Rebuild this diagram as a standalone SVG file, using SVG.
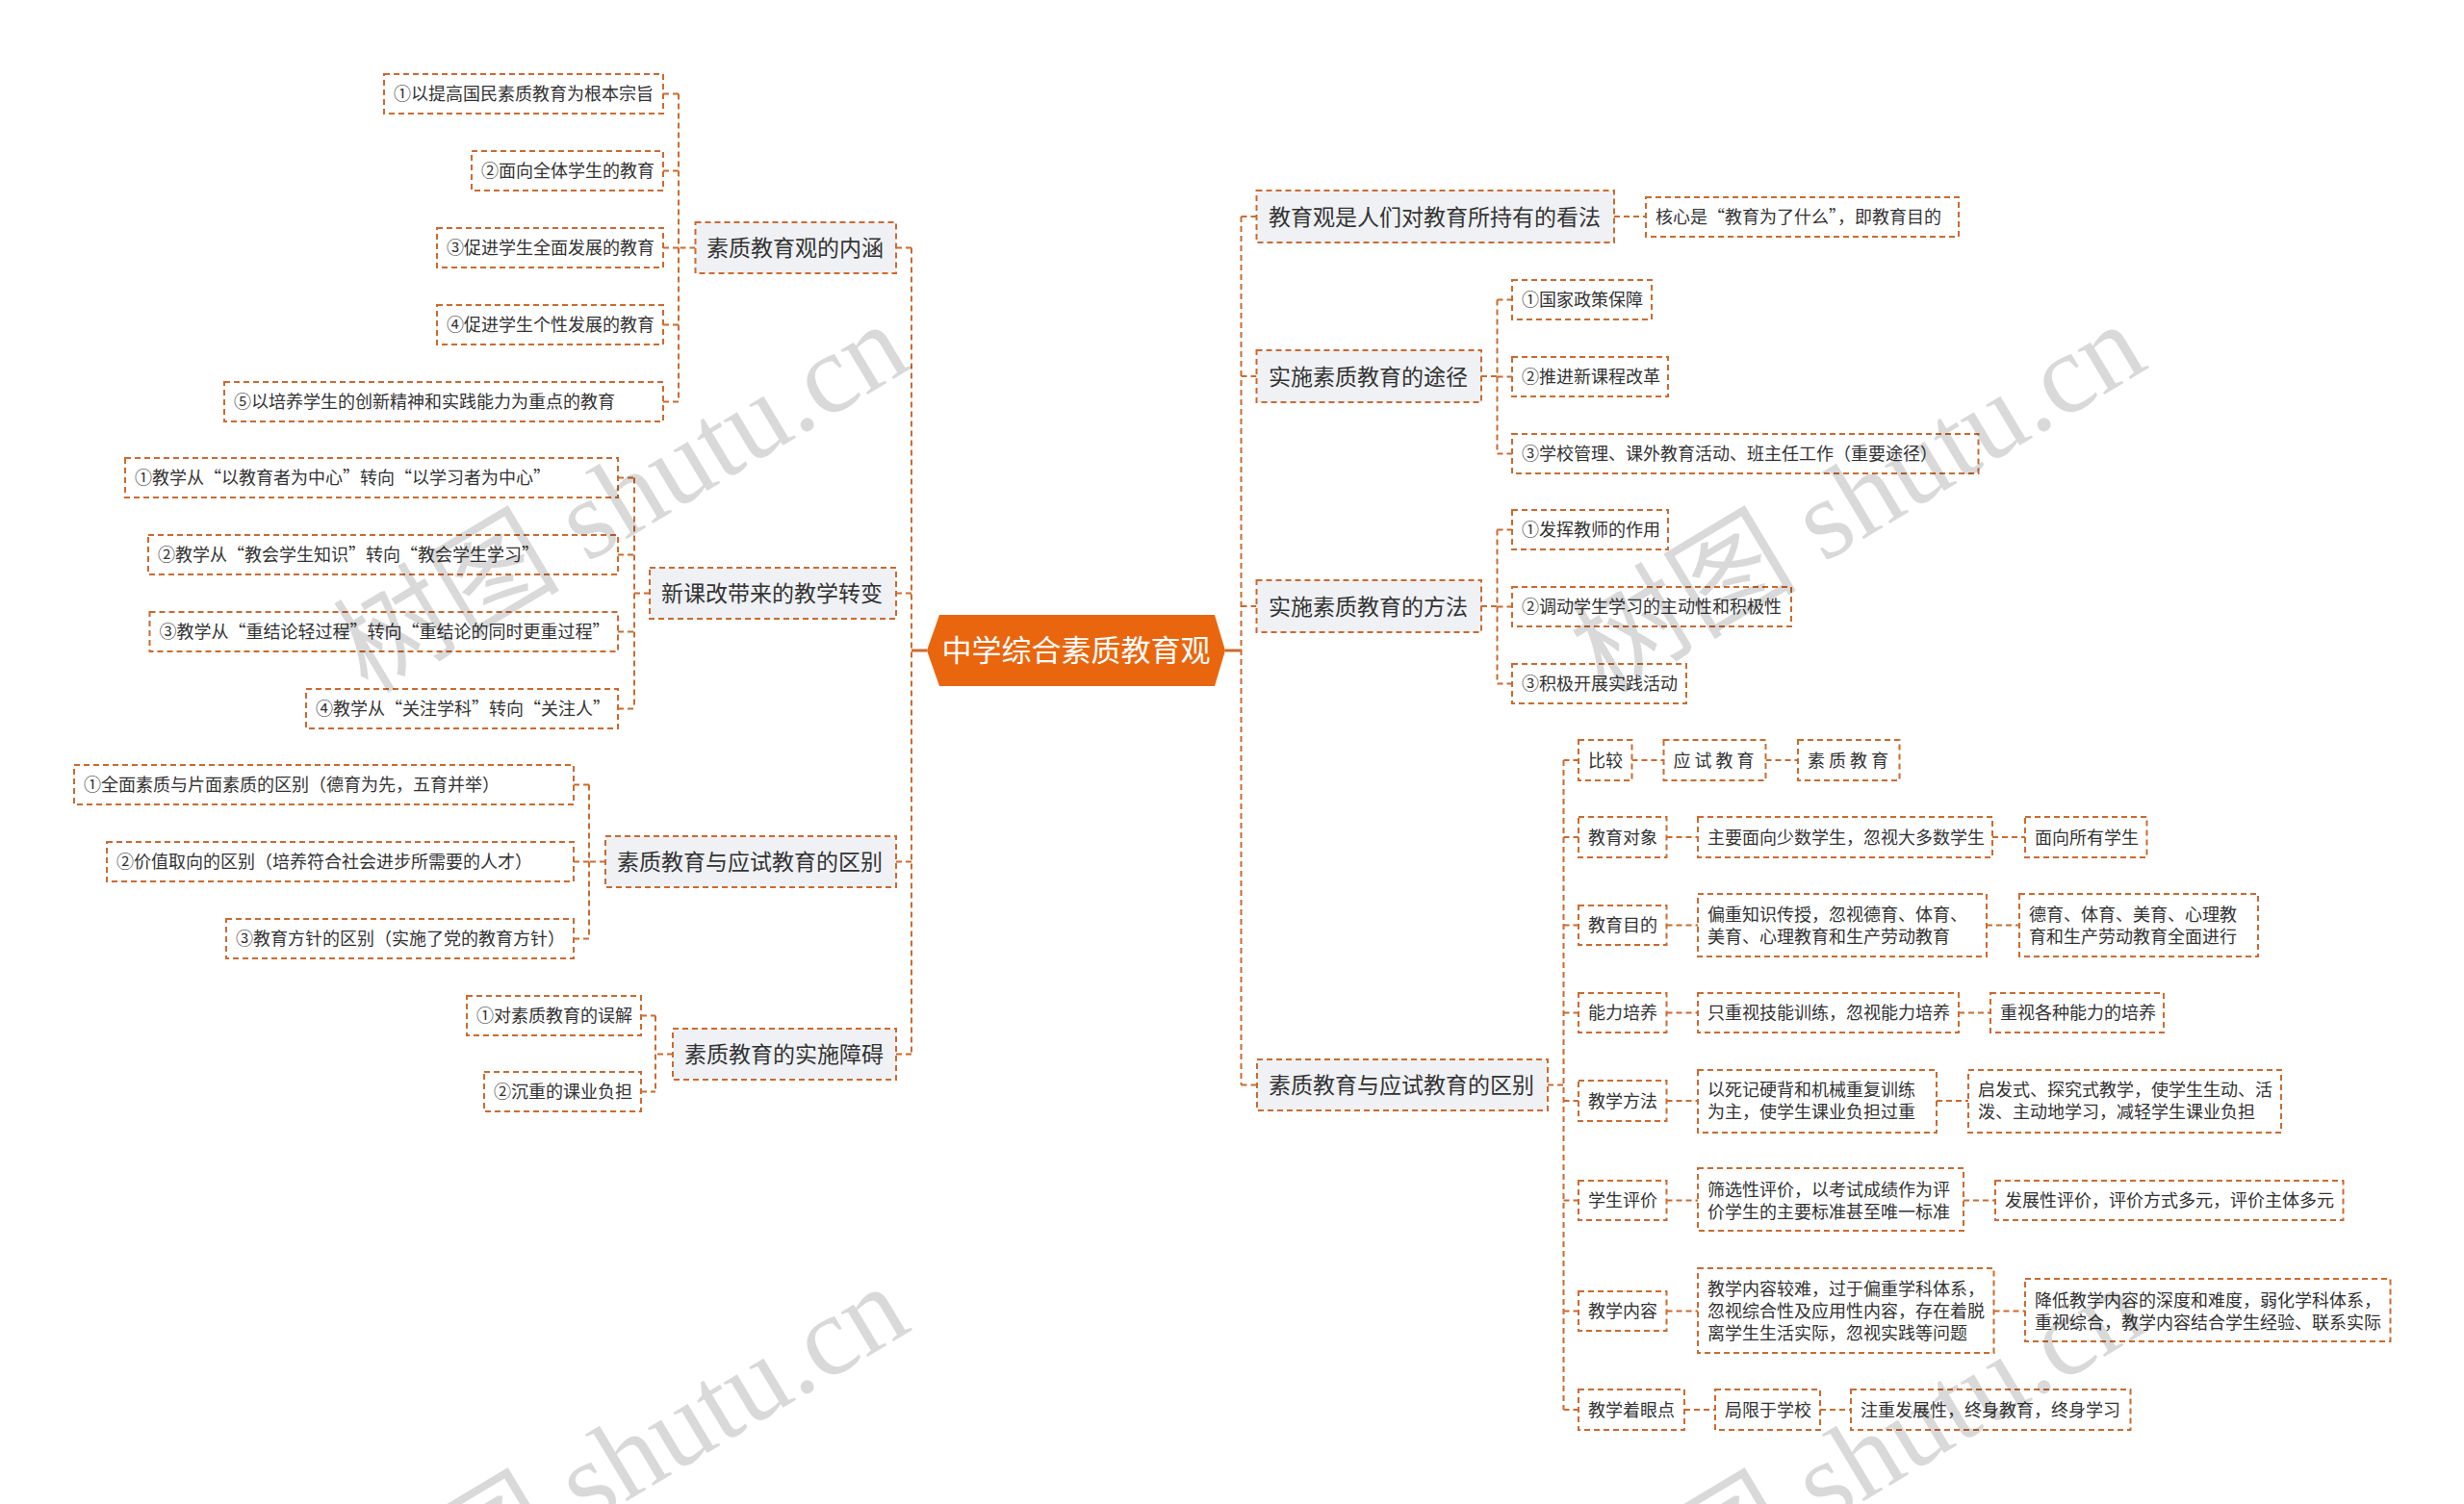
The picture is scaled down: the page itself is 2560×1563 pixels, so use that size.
<svg xmlns="http://www.w3.org/2000/svg" width="2560" height="1563" viewBox="0 0 2560 1563">
<style>
.leaf{fill:#ffffff;stroke:#cc6a2e;stroke-width:2;stroke-dasharray:6 4}
.branch{fill:#eff1f4;stroke:#cc6a2e;stroke-width:2;stroke-dasharray:6 4}
.conn{fill:none;stroke:#cc6a2e;stroke-width:2;stroke-dasharray:6 4}
.solid{fill:none;stroke:#cc6a2e;stroke-width:3}
text{font-family:"Noto Sans CJK SC","Noto Sans",sans-serif;fill:#333333;font-size:18px}
.tb{font-size:23px}
.tr{font-size:31px;fill:#ffffff}
.wm{font-family:"Liberation Serif","Noto Sans CJK SC",serif;font-size:118px;fill:#000000;fill-opacity:0.15}
</style>
<rect width="2560" height="1563" fill="#ffffff"/>
<g id="connectors">
<path class="solid" d="M947 676H963M1273 676H1290"/>
<path class="conn" d="M947 257.5V1095.5M931 257.5H947M931 616.5H947M931 895.5H947M931 1095.5H947"/>
<path class="conn" d="M705 97.5V417.5M722.5 257.5H705M689 97.5H705M689 177.5H705M689 257.5H705M689 337.5H705M689 417.5H705"/>
<path class="conn" d="M659 496.5V736.5M675 616.5H659M642 496.5H659M642 576.5H659M642 656.5H659M642 736.5H659"/>
<path class="conn" d="M612 815.5V975.5M629 895.5H612M596 815.5H612M596 895.5H612M596 975.5H612"/>
<path class="conn" d="M681 1055.5V1134.5M699 1095.5H681M666 1055.5H681M666 1134.5H681"/>
<path class="conn" d="M1289.5 225V1127.5M1289.5 225H1305.5M1289.5 391H1305.5M1289.5 630H1305.5M1289.5 1127.5H1306"/>
<path class="conn" d="M1677 225H1710"/>
<path class="conn" d="M1539 391H1555.5M1555.5 311.5V471.5M1555.5 311.5H1571M1555.5 391.5H1571M1555.5 471.5H1571"/>
<path class="conn" d="M1539 630H1555.5M1555.5 550.5V710.5M1555.5 550.5H1571M1555.5 630.5H1571M1555.5 710.5H1571"/>
<path class="conn" d="M1608 1127.5H1624.5M1624.5 790V1465M1624.5 790H1640M1624.5 870H1640M1624.5 961.5H1640M1624.5 1052.5H1640M1624.5 1144H1640M1624.5 1247.5H1640M1624.5 1362.5H1640M1624.5 1465H1640"/>
<path class="conn" d="M1695.5 790H1728.5M1834.5 790H1868M1731.5 870H1764M2070 870H2104M1731.5 961.5H1764M2064 961.5H2098M1731.5 1052.5H1764M2035 1052.5H2068M1731.5 1144H1764M2012 1144H2045M1731.5 1247.5H1764M2040 1247.5H2073M1731.5 1362.5H1764M2071.5 1362.5H2104M1750 1465H1782M1891 1465H1923"/>
</g>
<g id="root">
<polygon points="963,676 976,639 1262,639 1273,676 1262,713 976,713" fill="#e9660f"/>
<text class="tr" x="1118" y="687" text-anchor="middle">中学综合素质教育观</text>
</g>
<g id="b1"><rect class="branch" x="722.5" y="231" width="208.5" height="53"/><text class="tb" x="734" y="266">素质教育观的内涵</text></g>
<g id="l1a"><rect class="leaf" x="399" y="77" width="290" height="41"/><text x="409" y="104">①以提高国民素质教育为根本宗旨</text></g>
<g id="l1b"><rect class="leaf" x="490" y="157" width="199" height="41"/><text x="500" y="184">②面向全体学生的教育</text></g>
<g id="l1c"><rect class="leaf" x="454" y="237" width="235" height="41"/><text x="464" y="264">③促进学生全面发展的教育</text></g>
<g id="l1d"><rect class="leaf" x="454" y="317" width="235" height="41"/><text x="464" y="344">④促进学生个性发展的教育</text></g>
<g id="l1e"><rect class="leaf" x="233" y="397" width="456" height="41"/><text x="243" y="424">⑤以培养学生的创新精神和实践能力为重点的教育</text></g>
<g id="b2"><rect class="branch" x="675" y="590" width="256" height="53"/><text class="tb" x="687" y="625">新课改带来的教学转变</text></g>
<g id="l2a"><rect class="leaf" x="130" y="476" width="512" height="41"/><text x="140" y="503">①教学从“以教育者为中心”转向“以学习者为中心”</text></g>
<g id="l2b"><rect class="leaf" x="154" y="556" width="488" height="41"/><text x="164" y="583">②教学从“教会学生知识”转向“教会学生学习”</text></g>
<g id="l2c"><rect class="leaf" x="155.5" y="636" width="486.5" height="41"/><text x="165.5" y="663">③教学从“重结论轻过程”转向“重结论的同时更重过程”</text></g>
<g id="l2d"><rect class="leaf" x="318" y="716" width="324" height="41"/><text x="328" y="743">④教学从“关注学科”转向“关注人”</text></g>
<g id="b3"><rect class="branch" x="629" y="869" width="302" height="53"/><text class="tb" x="641" y="904">素质教育与应试教育的区别</text></g>
<g id="l3a"><rect class="leaf" x="77" y="795" width="519" height="41"/><text x="87" y="822">①全面素质与片面素质的区别（德育为先，五育并举）</text></g>
<g id="l3b"><rect class="leaf" x="111" y="875" width="485" height="41"/><text x="121" y="902">②价值取向的区别（培养符合社会进步所需要的人才）</text></g>
<g id="l3c"><rect class="leaf" x="235" y="955" width="361" height="41"/><text x="245" y="982">③教育方针的区别（实施了党的教育方针）</text></g>
<g id="b4"><rect class="branch" x="699" y="1069" width="232" height="53"/><text class="tb" x="711" y="1104">素质教育的实施障碍</text></g>
<g id="l4a"><rect class="leaf" x="485" y="1035" width="181" height="41"/><text x="495" y="1062">①对素质教育的误解</text></g>
<g id="l4b"><rect class="leaf" x="503" y="1114" width="163" height="41"/><text x="513" y="1141">②沉重的课业负担</text></g>
<g id="r1"><rect class="branch" x="1305.5" y="198" width="371.5" height="54"/><text class="tb" x="1318" y="233.5">教育观是人们对教育所持有的看法</text></g>
<g id="r1a"><rect class="leaf" x="1710" y="205" width="325" height="41"/><text x="1720" y="232">核心是“教育为了什么”，即教育目的</text></g>
<g id="r2"><rect class="branch" x="1305.5" y="364" width="233.5" height="54"/><text class="tb" x="1318" y="399.5">实施素质教育的途径</text></g>
<g id="r2a"><rect class="leaf" x="1571" y="291" width="145" height="41"/><text x="1581" y="318">①国家政策保障</text></g>
<g id="r2b"><rect class="leaf" x="1571" y="371" width="162" height="41"/><text x="1581" y="398">②推进新课程改革</text></g>
<g id="r2c"><rect class="leaf" x="1571" y="451" width="484.5" height="41"/><text x="1581" y="478">③学校管理、课外教育活动、班主任工作（重要途径）</text></g>
<g id="r3"><rect class="branch" x="1305.5" y="603" width="233.5" height="54"/><text class="tb" x="1318" y="638.5">实施素质教育的方法</text></g>
<g id="r3a"><rect class="leaf" x="1571" y="530" width="162" height="41"/><text x="1581" y="557">①发挥教师的作用</text></g>
<g id="r3b"><rect class="leaf" x="1571" y="610" width="290" height="41"/><text x="1581" y="637">②调动学生学习的主动性和积极性</text></g>
<g id="r3c"><rect class="leaf" x="1571" y="690" width="181" height="41"/><text x="1581" y="717">③积极开展实践活动</text></g>
<g id="r4"><rect class="branch" x="1306" y="1101" width="302" height="53"/><text class="tb" x="1318" y="1136">素质教育与应试教育的区别</text></g>
<g id="c1a"><rect class="leaf" x="1640" y="769" width="55.5" height="42"/><text x="1650" y="796.5">比较</text></g>
<g id="c1b"><rect class="leaf" x="1728.5" y="769" width="106" height="42"/><text x="1738.5" y="796.5">应 试 教 育</text></g>
<g id="c1c"><rect class="leaf" x="1868" y="769" width="105.5" height="42"/><text x="1878" y="796.5">素 质 教 育</text></g>
<g id="c2a"><rect class="leaf" x="1640" y="849" width="91.5" height="42"/><text x="1650" y="876.5">教育对象</text></g>
<g id="c2b"><rect class="leaf" x="1764" y="849" width="306" height="42"/><text x="1774" y="876.5">主要面向少数学生，忽视大多数学生</text></g>
<g id="c2c"><rect class="leaf" x="2104" y="849" width="126.5" height="42"/><text x="2114" y="876.5">面向所有学生</text></g>
<g id="c3a"><rect class="leaf" x="1640" y="941" width="91.5" height="41"/><text x="1650" y="968">教育目的</text></g>
<g id="c3b"><rect class="leaf" x="1764" y="929" width="300" height="65"/><text x="1774" y="956.5">偏重知识传授，忽视德育、体育、</text><text x="1774" y="979.5">美育、心理教育和生产劳动教育</text></g>
<g id="c3c"><rect class="leaf" x="2098" y="929" width="248" height="65"/><text x="2108" y="956.5">德育、体育、美育、心理教</text><text x="2108" y="979.5">育和生产劳动教育全面进行</text></g>
<g id="c4a"><rect class="leaf" x="1640" y="1032" width="91.5" height="41"/><text x="1650" y="1059">能力培养</text></g>
<g id="c4b"><rect class="leaf" x="1764" y="1032" width="271" height="41"/><text x="1774" y="1059">只重视技能训练，忽视能力培养</text></g>
<g id="c4c"><rect class="leaf" x="2068" y="1032" width="180" height="41"/><text x="2078" y="1059">重视各种能力的培养</text></g>
<g id="c5a"><rect class="leaf" x="1640" y="1123" width="91.5" height="42"/><text x="1650" y="1150.5">教学方法</text></g>
<g id="c5b"><rect class="leaf" x="1764" y="1112" width="248" height="65"/><text x="1774" y="1139">以死记硬背和机械重复训练</text><text x="1774" y="1162">为主，使学生课业负担过重</text></g>
<g id="c5c"><rect class="leaf" x="2045" y="1112" width="325" height="65"/><text x="2055" y="1139">启发式、探究式教学，使学生生动、活</text><text x="2055" y="1162">泼、主动地学习，减轻学生课业负担</text></g>
<g id="c6a"><rect class="leaf" x="1640" y="1227" width="91.5" height="41"/><text x="1650" y="1254">学生评价</text></g>
<g id="c6b"><rect class="leaf" x="1764" y="1214" width="276" height="65"/><text x="1774" y="1242.5">筛选性评价，以考试成绩作为评</text><text x="1774" y="1265.5">价学生的主要标准甚至唯一标准</text></g>
<g id="c6c"><rect class="leaf" x="2073" y="1227" width="361.5" height="41"/><text x="2083" y="1254">发展性评价，评价方式多元，评价主体多元</text></g>
<g id="c7a"><rect class="leaf" x="1640" y="1342" width="91.5" height="41"/><text x="1650" y="1369">教学内容</text></g>
<g id="c7b"><rect class="leaf" x="1764" y="1318" width="307.5" height="88"/><text x="1774" y="1346">教学内容较难，过于偏重学科体系，</text><text x="1774" y="1369">忽视综合性及应用性内容，存在着脱</text><text x="1774" y="1392">离学生生活实际，忽视实践等问题</text></g>
<g id="c7c"><rect class="leaf" x="2104" y="1329" width="379.5" height="65"/><text x="2114" y="1357.5">降低教学内容的深度和难度，弱化学科体系，</text><text x="2114" y="1380.5">重视综合，教学内容结合学生经验、联系实际</text></g>
<g id="c8a"><rect class="leaf" x="1640" y="1444" width="110" height="42"/><text x="1650" y="1471.5">教学着眼点</text></g>
<g id="c8b"><rect class="leaf" x="1782" y="1444" width="109" height="42"/><text x="1792" y="1471.5">局限于学校</text></g>
<g id="c8c"><rect class="leaf" x="1923" y="1444" width="290.5" height="42"/><text x="1933" y="1471.5">注重发展性，终身教育，终身学习</text></g>
<g id="watermarks">
<text class="wm" x="382" y="722" transform="rotate(-31 382 722)">树图 shutu.cn</text>
<text class="wm" x="1667" y="722" transform="rotate(-31 1667 722)">树图 shutu.cn</text>
<text class="wm" x="382" y="1722" transform="rotate(-31 382 1722)">树图 shutu.cn</text>
<text class="wm" x="1667" y="1722" transform="rotate(-31 1667 1722)">树图 shutu.cn</text>
</g>
</svg>
